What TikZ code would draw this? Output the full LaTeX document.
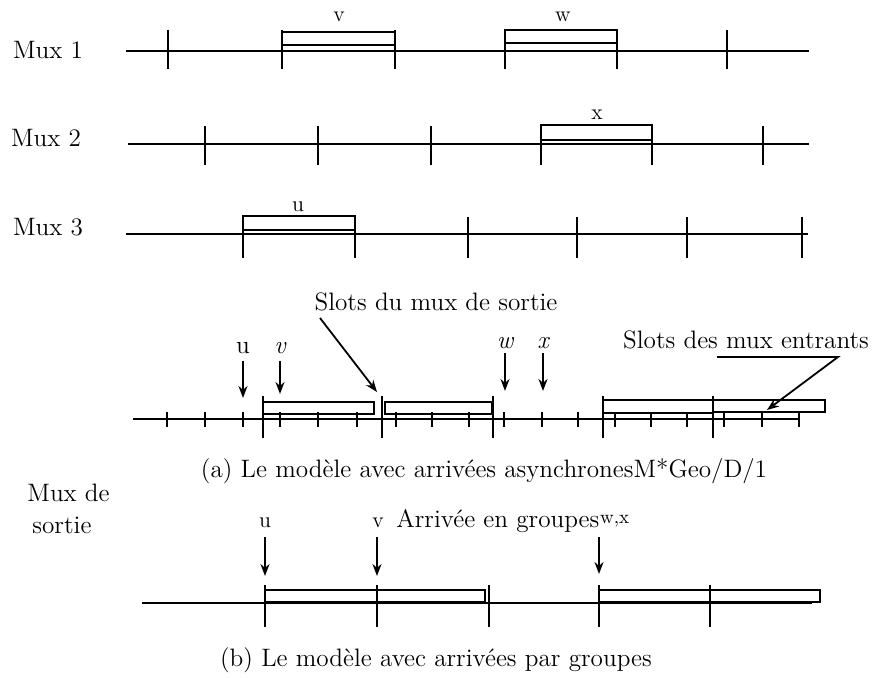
\documentclass[tikz,border=0pt]{standalone}
\usetikzlibrary{arrows.meta}
\begin{document}
\begin{tikzpicture}[x=0.5pt,y=-0.5pt,
  axis/.style={line width=1.2pt},
  bigtick/.style={line width=1.1pt},
  smalltick/.style={line width=1pt},
  slotbox/.style={draw,line width=1.1pt},
  arr/.style={-{Stealth[length=6pt,width=4.5pt]},line width=0.9pt},
  lbl/.style={font=\fontsize{12.6}{14}\selectfont, inner sep=0pt},
  sml/.style={font=\fontsize{11}{12}\selectfont, inner sep=0pt}]
\useasboundingbox (0,0) rectangle (880,678);

% ---------------- Mux 1
\node[lbl] (m1) at (48,50) {Mux 1};
\coordinate (m1a) at (126,51); \coordinate (m1b) at (809,51);
\draw[axis] (m1a) -- (m1b);
\foreach \x in {168,282,395,505,617,727} \draw[bigtick] (\x,30) -- (\x,69);
\draw[slotbox] (282,32) rectangle (395,45);
\draw[slotbox] (505,30) rectangle (617,43);
\node[sml] (lv1) at (339,17) {v};
\node[sml] (lw1) at (563,17) {w};

% ---------------- Mux 2
\node[lbl] (m2) at (46,138) {Mux 2};
\coordinate (m2a) at (128,144); \coordinate (m2b) at (809,144);
\draw[axis] (m2a) -- (m2b);
\foreach \x in {205,318,431,541,652,763} \draw[bigtick] (\x,126) -- (\x,165);
\draw[slotbox] (541,125) rectangle (652,140);
\node[sml] (lx2) at (597,115) {x};

% ---------------- Mux 3
\node[lbl] (m3) at (48,227) {Mux 3};
\coordinate (m3a) at (126,234); \coordinate (m3b) at (808,234);
\draw[axis] (m3a) -- (m3b);
\foreach \x in {243,355,468,577,687,802} \draw[bigtick] (\x,217) -- (\x,258);
\draw[slotbox] (243,216) rectangle (355,230);
\node[sml] (lu3) at (298,207) {u};

% ---------------- (a)
\node[lbl] (slotsout) at (436,302) {Slots du mux de sortie};
\coordinate (sa1) at (320,318); \coordinate (sa2) at (377,392);
\draw[arr] (sa1) -- (sa2);

\node[lbl] (au) at (243,348) {u};
\node[lbl] (av) at (280,348) {\itshape v};
\node[lbl] (aw) at (505,343) {\itshape w};
\node[lbl] (ax) at (543,343) {\itshape x};
\coordinate (au1) at (243,361); \coordinate (au2) at (243,398);
\coordinate (av1) at (280,361); \coordinate (av2) at (280,394);
\coordinate (aw1) at (505,353); \coordinate (aw2) at (505,391);
\coordinate (ax1) at (543,353); \coordinate (ax2) at (543,391);
\draw[arr] (au1) -- (au2);
\draw[arr] (av1) -- (av2);
\draw[arr] (aw1) -- (aw2);
\draw[arr] (ax1) -- (ax2);

\coordinate (la) at (133,419); \coordinate (lb) at (800,419);
\draw[axis] (la) -- (lb);
\foreach \x in {167,205,243,280,318,357,396,432,469,504,542,578,615,651,687,724,762,799}
  \draw[smalltick] (\x,412) -- (\x,427);
\foreach \x in {263,382,493,603,713} \draw[bigtick] (\x,396) -- (\x,438);
\draw[slotbox] (263,402) rectangle (374,414);
\draw[slotbox] (385,402) rectangle (492,414);
\draw[slotbox] (603,400) rectangle (713,413);
\draw[slotbox] (713,400) rectangle (825,412);

\node[lbl] (slotsin) at (746,340) {Slots des mux entrants};
\coordinate (si1) at (717,357); \coordinate (si2) at (838,357); \coordinate (si3) at (767,410);
\draw[arr] (si1) -- (si2) -- (si3);

\node[lbl] (capa) at (484,471) {(a) Le mod\`ele avec arriv\'ees asynchronesM*Geo/D/1};

% ---------------- (b)
\node[lbl,anchor=west] (md) at (27,493) {Mux de};
\node[lbl,anchor=west] (so) at (32,525) {sortie};

\node[sml] (bu) at (265,523) {u};
\node[sml] (bv) at (378,523) {v};
\node[lbl,anchor=base west] (grp) at (396,528) {Arriv\'ee en groupes};
\node[sml,anchor=base west,font=\fontsize{9.5}{10}\selectfont] (wx) at (grp.base east) [yshift=2pt] {w,x};

\coordinate (bu1) at (265,537); \coordinate (bu2) at (265,576);
\coordinate (bv1) at (377,537); \coordinate (bv2) at (377,576);
\coordinate (bw1) at (599,537); \coordinate (bw2) at (599,574);
\draw[arr] (bu1) -- (bu2);
\draw[arr] (bv1) -- (bv2);
\draw[arr] (bw1) -- (bw2);

\coordinate (lba) at (142,603); \coordinate (lbb) at (812,603);
\draw[axis] (lba) -- (lbb);
\foreach \x in {265,377,489,599,710} \draw[bigtick] (\x,585) -- (\x,627);
\draw[slotbox] (265,590) rectangle (377,602);
\draw[slotbox] (377,590) rectangle (485,602);
\draw[slotbox] (599,590) rectangle (710,602);
\draw[slotbox] (710,590) rectangle (820,602);

\node[lbl] (capb) at (436,660) {(b) Le mod\`ele avec arriv\'ees par groupes};
\end{tikzpicture}
\end{document}
